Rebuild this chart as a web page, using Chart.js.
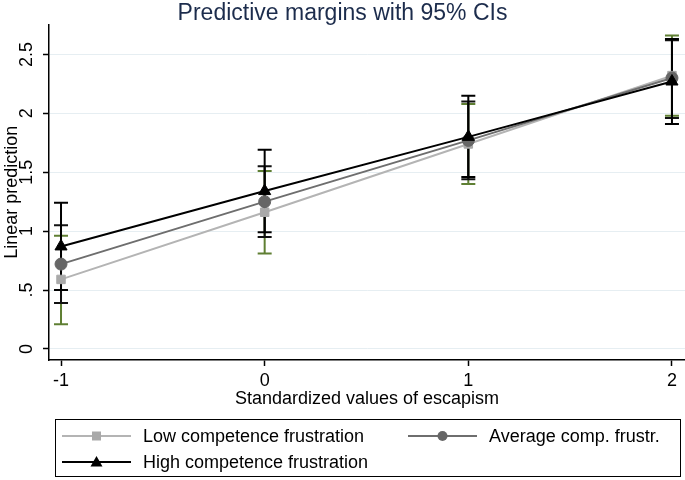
<!DOCTYPE html>
<html>
<head>
<meta charset="utf-8">
<script src="https://cdn.jsdelivr.net/npm/chart.js@4.4.1/dist/chart.umd.min.js"></script>
<style>
  body { margin: 0; background: #fff; }
  canvas { display: block; }
</style>
</head>
<body>
<canvas id="margins" width="685" height="480"></canvas>
<script>
// values
var xValues = [-1, 0, 1, 2];

var lowMean  = [0.59, 1.16, 1.74, 2.32];
var lowLower = [0.21, 0.81, 1.40, 1.98];
var lowUpper = [0.96, 1.51, 2.08, 2.66];

var avgMean  = [0.72, 1.25, 1.77, 2.30];
var avgLower = [0.39, 0.95, 1.44, 1.96];
var avgUpper = [1.05, 1.55, 2.10, 2.62];

var highMean  = [0.87, 1.34, 1.80, 2.27];
var highLower = [0.50, 0.99, 1.46, 1.91];
var highUpper = [1.24, 1.69, 2.15, 2.63];

var xTicks = [-1, 0, 1, 2];
var yTicks = [0, 0.5, 1, 1.5, 2, 2.5];
var yTickLabels = ['0', '.5', '1', '1.5', '2', '2.5'];

var legendLabels = ['Low competence frustration', 'Average comp. frustr.', 'High competence frustration'];

Chart.defaults.font.family = '"Liberation Sans", Arial, sans-serif';
Chart.defaults.color = '#000';

function pts(ys) {
  return xValues.map(function (x, i) { return { x: x, y: ys[i] }; });
}

var series = [
  { label: legendLabels[2], mean: highMean, lo: highLower, hi: highUpper, line: '#000000', mark: '#000000', ci: '#000000', style: 'triangle', radius: 7 },
  { label: legendLabels[1], mean: avgMean, lo: avgLower, hi: avgUpper, line: '#6e6e6e', mark: '#666666', ci: '#111111', style: 'circle', radius: 6 },
  { label: legendLabels[0], mean: lowMean, lo: lowLower, hi: lowUpper, line: '#b4b4b4', mark: '#a9a9a9', ci: '#5f7f33', style: 'rect', radius: 6 }
];

var datasets = [];
series.forEach(function (s) {
  datasets.push({
    label: s.label,
    data: pts(s.mean),
    showLine: true,
    borderColor: s.line,
    borderWidth: 2,
    pointStyle: s.style,
    pointRadius: s.radius,
    pointBackgroundColor: s.mark,
    pointBorderColor: s.mark,
    pointBorderWidth: 1,
    order: 0
  });
});
// confidence intervals: one little two-point dataset per x, caps as 'line' points
series.forEach(function (s, k) {
  xValues.forEach(function (x, i) {
    datasets.push({
      label: 'ci',
      data: [{ x: x, y: s.lo[i] }, { x: x, y: s.hi[i] }],
      showLine: true,
      borderColor: s.ci,
      borderWidth: 2,
      pointStyle: 'line',
      pointRadius: 7,
      pointBorderColor: s.ci,
      pointBorderWidth: 2,
      order: k + 1
    });
  });
});

// stata style legend box under the axis
var boxLegend = {
  id: 'boxLegend',
  afterDraw: function (chart) {
    var ctx = chart.ctx;
    var slots = [[62, 436], [408, 436], [62, 462]];
    var order = [2, 1, 0];
    ctx.save();
    ctx.strokeStyle = '#000';
    ctx.lineWidth = 1;
    ctx.strokeRect(55.5, 419.5, 625, 57);
    ctx.font = '18px "Liberation Sans", Arial, sans-serif';
    ctx.textBaseline = 'middle';
    order.forEach(function (si, n) {
      var s = series[si];
      var x = slots[n][0], y = slots[n][1];
      ctx.strokeStyle = s.line;
      ctx.lineWidth = 2;
      ctx.beginPath();
      ctx.moveTo(x, y);
      ctx.lineTo(x + 69, y);
      ctx.stroke();
      var cx = x + 34.5;
      ctx.fillStyle = s.mark;
      ctx.beginPath();
      if (s.style === 'rect') {
        ctx.rect(cx - 4.5, y - 4.5, 9, 9);
      } else if (s.style === 'circle') {
        ctx.arc(cx, y, 5, 0, Math.PI * 2);
      } else {
        ctx.moveTo(cx, y - 6);
        ctx.lineTo(cx + 6, y + 4.5);
        ctx.lineTo(cx - 6, y + 4.5);
        ctx.closePath();
      }
      ctx.fill();
      ctx.fillStyle = '#000';
      ctx.fillText(s.label, x + 81, y + 1);
    });
    ctx.restore();
  }
};

var config = {
  type: 'scatter',
  data: { datasets: datasets },
  options: {
    responsive: false,
    animation: false,
    events: [],
    layout: { autoPadding: false, padding: { left: 0, right: 0, top: 0, bottom: 70 } },
    plugins: {
      legend: { display: false },
      tooltip: { enabled: false },
      title: {
        display: true,
        text: 'Predictive margins with 95% CIs',
        color: '#1c2c4c',
        font: { size: 23, weight: 'normal' },
        padding: { top: 0, bottom: -3 }
      }
    },
    scales: {
      x: {
        type: 'linear',
        min: -1.059,
        max: 2.064,
        afterBuildTicks: function (s) { s.ticks = xTicks.map(function (v) { return { value: v }; }); },
        afterFit: function (s) { s.height = 50; s.paddingLeft = 0; s.paddingRight = 0; },
        ticks: { font: { size: 18 }, padding: 4, maxRotation: 0, color: '#000' },
        grid: { drawOnChartArea: false, tickLength: 6, tickColor: '#000', tickWidth: 1.5 },
        border: { color: '#000', width: 1.5 },
        title: { display: true, text: 'Standardized values of escapism', font: { size: 18 }, color: '#000', padding: { top: 0, bottom: 0 } }
      },
      y: {
        type: 'linear',
        min: -0.094,
        max: 2.753,
        afterBuildTicks: function (s) { s.ticks = yTicks.map(function (v) { return { value: v }; }); },
        afterFit: function (s) { s.width = 49; s.paddingTop = 0; s.paddingBottom = 0; },
        ticks: {
          font: { size: 18 },
          minRotation: 90,
          maxRotation: 90,
          crossAlign: 'center',
          padding: 3,
          color: '#000',
          callback: function (v) { return yTickLabels[yTicks.indexOf(v)]; }
        },
        grid: { color: '#e6eef2', lineWidth: 1, tickLength: 6, tickColor: '#000', tickWidth: 1.5 },
        border: { color: '#000', width: 1.5 },
        title: { display: true, text: 'Linear prediction', font: { size: 18 }, color: '#000', padding: { top: 1, bottom: 0 } }
      }
    }
  },
  plugins: [boxLegend]
};

window.onload = function () {
  var ctx = document.getElementById('margins').getContext('2d');
  window.marginsChart = new Chart(ctx, config);
};
</script>
</body>
</html>
